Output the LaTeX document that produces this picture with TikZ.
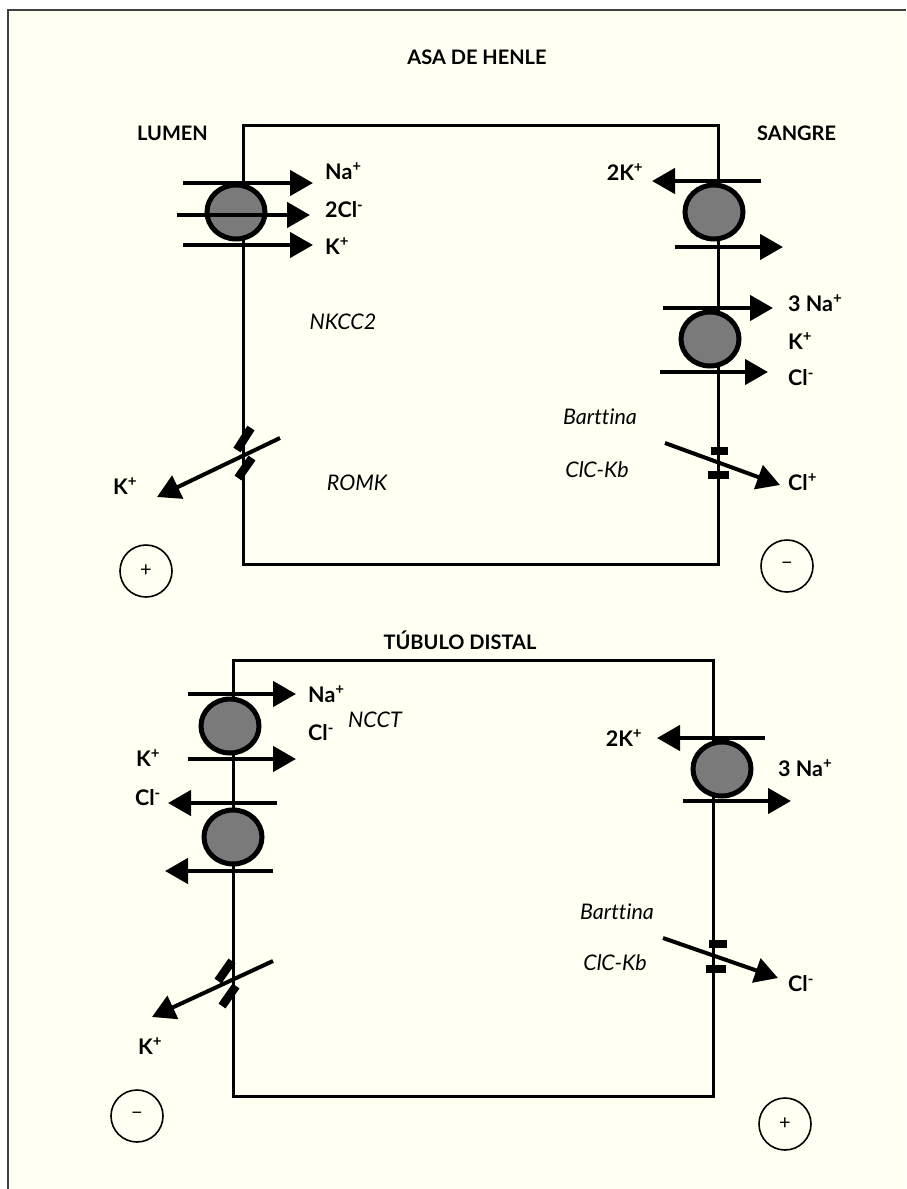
\documentclass[tikz,border=0pt]{standalone}
\usepackage{fontspec}
\setmainfont{Lato}[Ligatures=NoCommon]
\usetikzlibrary{arrows.meta,shapes.geometric}
\definecolor{paper}{HTML}{FFFFF2}
\begin{document}
\begin{tikzpicture}[x=1pt,y=-1pt,
  cell/.style={draw, line width=2.6pt},
  flux/.style={line width=4.5pt, -{Triangle[length=23pt,width=25pt]}},
  pump/.style={ellipse, draw, line width=5pt, fill=black!52, minimum width=58pt, minimum height=54pt, inner sep=0pt},
  chbar/.style={line width=8.5pt},
  ion/.style={font=\fontsize{21.5}{24}\selectfont\bfseries, inner sep=0pt},
  prot/.style={font=\fontsize{21.5}{24}\selectfont\itshape, inner sep=0pt},
  head/.style={font=\fontsize{20}{22}\selectfont\bfseries, inner sep=0pt},
  charge/.style={circle, draw, line width=1.6pt, minimum size=52pt, inner sep=0pt, font=\fontsize{20}{22}\selectfont}
]
\useasboundingbox (0,0) rectangle (906,1189);
\fill[white] (0,0) rectangle (906,1189);
\fill[paper] (8,10) rectangle (906,1189);
\draw[line width=2pt, black!75] (8,1189) -- (8,10) -- (906,10);

% ================= ASA DE HENLE =================
\node[head] (t1) at (477,57) {ASA DE HENLE};
\node[head, anchor=east] (lum) at (208,133) {LUMEN};
\node[head, anchor=west] (san) at (757,133) {SANGRE};
\node[cell, minimum width=475pt, minimum height=439pt, anchor=north west, inner sep=0pt] (c1) at (242,124) {};

% NKCC2
\node[pump] (p1) at (236,212) {};
\coordinate (p1a) at (183,183); \coordinate (p1b) at (313,183);
\coordinate (p1c) at (177,215); \coordinate (p1d) at (310,215);
\coordinate (p1e) at (183,245); \coordinate (p1f) at (313,245);
\draw[flux] (p1a) -- (p1b);
\draw[flux] (p1c) -- (p1d);
\draw[flux] (p1e) -- (p1f);
\node[ion, anchor=west] (na1) at (325,171) {Na\textsuperscript{+}};
\node[ion, anchor=west] (cl1) at (325,210) {2Cl\textsuperscript{-}};
\node[ion, anchor=west] (k1) at (325,246) {K\textsuperscript{+}};
\node[prot] (nkcc) at (343,322) {NKCC2};

% Na/K ATPase (top right)
\node[pump] (p2) at (714,212) {};
\coordinate (p2a) at (761,181); \coordinate (p2b) at (652,181);
\coordinate (p2c) at (675,247); \coordinate (p2d) at (783,247);
\draw[flux] (p2a) -- (p2b);
\draw[flux] (p2c) -- (p2d);
\node[ion] (k2) at (625,172) {2K\textsuperscript{+}};

% KCC (top right)
\node[pump] (p3) at (710,339) {};
\coordinate (p3a) at (663,308); \coordinate (p3b) at (773,308);
\coordinate (p3c) at (660,372); \coordinate (p3d) at (768,372);
\draw[flux] (p3a) -- (p3b);
\draw[flux] (p3c) -- (p3d);
\node[ion, anchor=west] (na3) at (788,303) {3 Na\textsuperscript{+}};
\node[ion, anchor=west] (k3) at (788,341) {K\textsuperscript{+}};
\node[ion, anchor=west] (cl3) at (788,378) {Cl\textsuperscript{-}};

% ROMK (top)
\coordinate (r1a) at (251,428); \coordinate (r1b) at (237,450);
\coordinate (r1c) at (252,458); \coordinate (r1d) at (238,478);
\draw[chbar] (r1a) -- (r1b);
\draw[chbar] (r1c) -- (r1d);
\coordinate (r1s) at (280,438); \coordinate (r1t) at (157,497);
\draw[flux, line width=4pt] (r1s) -- (r1t);
\node[ion] (k4) at (125,486) {K\textsuperscript{+}};
\node[prot] (romk) at (357,483) {ROMK};

% ClC-Kb (top)
\coordinate (b1a) at (711,451); \coordinate (b1b) at (728,451);
\coordinate (b1c) at (708,475); \coordinate (b1d) at (729,475);
\draw[chbar] (b1a) -- (b1b);
\draw[chbar] (b1c) -- (b1d);
\coordinate (b1s) at (665,443); \coordinate (b1t) at (780,485);
\draw[flux, line width=4pt] (b1s) -- (b1t);
\node[prot] (bart1) at (600,417) {Barttina};
\node[prot] (clc1) at (597,470) {ClC-Kb};
\node[ion, anchor=west] (cl4) at (788,482) {Cl\textsuperscript{+}};

\node[charge] (ch1) at (146,571) {+};
\node[charge] (ch2) at (787,566) {−};

% ================= TUBULO DISTAL =================
\node[head] (t2) at (460,640) {TÚBULO DISTAL};
\node[cell, minimum width=480pt, minimum height=436pt, anchor=north west, inner sep=0pt] (c2) at (232,659) {};

% NCCT
\node[pump] (q1) at (230,726) {};
\coordinate (q1a) at (188,694); \coordinate (q1b) at (296,694);
\coordinate (q1c) at (188,759); \coordinate (q1d) at (296,759);
\draw[flux] (q1a) -- (q1b);
\draw[flux] (q1c) -- (q1d);
\node[ion, anchor=west] (na5) at (308,694) {Na\textsuperscript{+}};
\node[ion, anchor=west] (cl5) at (308,733) {Cl\textsuperscript{-}};
\node[prot, anchor=west] (ncct) at (348,720) {NCCT};

% KCC (bottom left)
\node[pump] (q2) at (233,837) {};
\coordinate (q2a) at (277,803); \coordinate (q2b) at (168,803);
\coordinate (q2c) at (273,871); \coordinate (q2d) at (165,871);
\draw[flux] (q2a) -- (q2b);
\draw[flux] (q2c) -- (q2d);
\node[ion] (k6) at (148,758) {K\textsuperscript{+}};
\node[ion] (cl6) at (148,798) {Cl\textsuperscript{-}};

% ROMK (bottom)
\coordinate (r2a) at (232,961); \coordinate (r2b) at (218,981);
\coordinate (r2c) at (236,986); \coordinate (r2d) at (222,1006);
\draw[chbar] (r2a) -- (r2b);
\draw[chbar] (r2c) -- (r2d);
\coordinate (r2s) at (273,961); \coordinate (r2t) at (152,1017);
\draw[flux, line width=4pt] (r2s) -- (r2t);
\node[ion] (k7) at (150,1046) {K\textsuperscript{+}};

% Na/K ATPase (bottom right)
\node[pump] (q3) at (722,769) {};
\coordinate (q3a) at (765,738); \coordinate (q3b) at (657,738);
\coordinate (q3c) at (683,801); \coordinate (q3d) at (791,801);
\draw[flux] (q3a) -- (q3b);
\draw[flux] (q3c) -- (q3d);
\node[ion] (k8) at (624,738) {2K\textsuperscript{+}};
\node[ion, anchor=west] (na8) at (778,768) {3 Na\textsuperscript{+}};

% ClC-Kb (bottom)
\coordinate (b2a) at (709,944); \coordinate (b2b) at (727,944);
\coordinate (b2c) at (706,969); \coordinate (b2d) at (726,969);
\draw[chbar] (b2a) -- (b2b);
\draw[chbar] (b2c) -- (b2d);
\coordinate (b2s) at (663,938); \coordinate (b2t) at (778,978);
\draw[flux, line width=4pt] (b2s) -- (b2t);
\node[prot] (bart2) at (617,912) {Barttina};
\node[prot] (clc2) at (615,963) {ClC-Kb};
\node[ion, anchor=west] (cl9) at (788,984) {Cl\textsuperscript{-}};

\node[charge] (ch3) at (137,1116) {−};
\node[charge] (ch4) at (785,1124) {+};
\end{tikzpicture}
\end{document}
